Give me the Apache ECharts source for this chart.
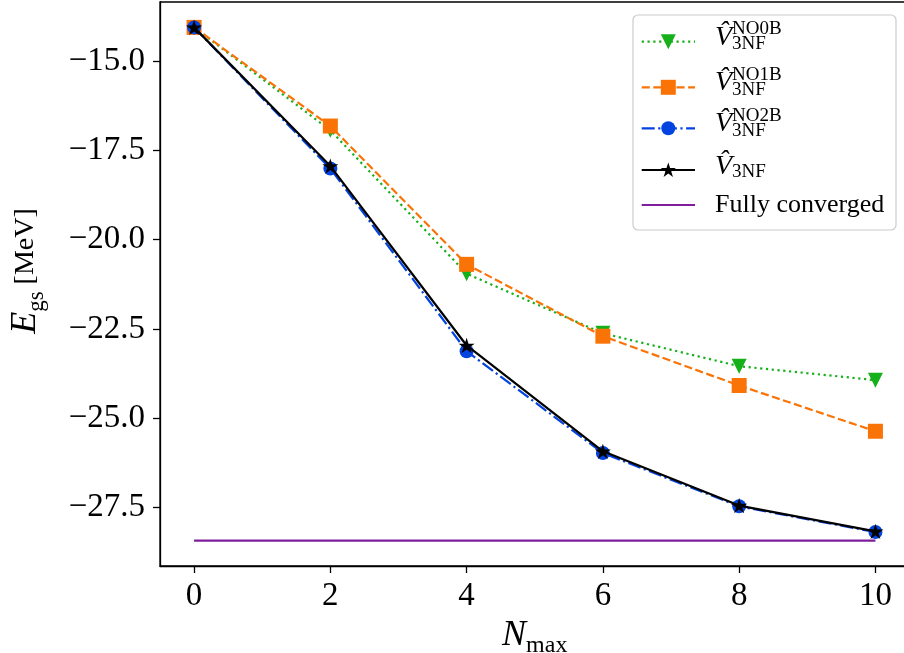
<!DOCTYPE html>
<html>
<head>
<meta charset="utf-8">
<script src="https://cdn.jsdelivr.net/npm/echarts@6/dist/echarts.min.js"></script>
<style>
html,body{margin:0;padding:0;background:#fff;}
#chart{width:904px;height:653px;}
</style>
</head>
<body>
<div id="chart"></div>
<script>
// ---- data ----
const nmax = [0, 2, 4, 6, 8, 10];
const no0b = [-14.06, -16.94, -20.95, -22.62, -23.54, -23.93];
const no1b = [-14.06, -16.82, -20.69, -22.70, -24.08, -25.36];
const no2b = [-14.06, -18.01, -23.12, -25.97, -27.46, -28.18];
const full3nf = [-14.06, -17.94, -22.96, -25.92, -27.44, -28.16];
const convergedX = [0, 10];
const convergedY = [-28.42, -28.42];
const xTicks = [0, 2, 4, 6, 8, 10];
const yTicks = [-27.5, -25.0, -22.5, -20.0, -17.5, -15.0];
const legendSup = ['NO0B', 'NO1B', 'NO2B', ''];

// ---- styles ----
const GREEN = '#15b01a', ORANGE = '#f97306', BLUE = '#0343df', BLACK = '#000000', PURPLE = '#7e1e9c';
const FONT = '"Liberation Serif", "Times New Roman", serif';
const STAR = 'path://M0,-1 L0.2245,-0.309 L0.951,-0.309 L0.363,0.118 L0.588,0.809 L0,0.382 L-0.588,0.809 L-0.363,0.118 L-0.951,-0.309 L-0.2245,-0.309 Z';
const LW = 2.2;
const DOT = [2.2, 3.6], DASH = [8.1, 3.5], DASHDOT = [13, 3.5, 2.2, 3.5];

const zip = (xs, ys) => xs.map((x, i) => [x, ys[i]]);
const fmtY = v => (v < 0 ? '\u2212' : '') + Math.abs(v).toFixed(1);

// ---- legend (graphic) ----
const legendEntries = [
  {ly: 41.7, color: GREEN, dash: DOT, marker: 'tri'},
  {ly: 87.3, color: ORANGE, dash: DASH, marker: 'sq'},
  {ly: 128.3, color: BLUE, dash: DASHDOT, marker: 'circ'},
  {ly: 170, color: BLACK, dash: null, marker: 'star'},
  {ly: 205, color: PURPLE, dash: null, marker: null}
];
const LX1 = 641.7, LX2 = 695, LMX = 668.3, TX = 715, SX = 732;
const graphics = [{
  type: 'rect', shape: {x: 633, y: 15, width: 263, height: 215, r: 5},
  style: {fill: 'rgba(255,255,255,0.8)', stroke: '#cccccc', lineWidth: 1.2}, z: 100
}];
function starPts(cx, cy, R) {
  const pts = [];
  for (let k = 0; k < 10; k++) {
    const r = k % 2 === 0 ? R : R * 0.382;
    const a = -Math.PI / 2 + k * Math.PI / 5;
    pts.push([cx + r * Math.cos(a), cy + r * Math.sin(a)]);
  }
  return pts;
}
legendEntries.forEach((e, i) => {
  graphics.push({type: 'line', shape: {x1: LX1, y1: e.ly, x2: LX2, y2: e.ly},
    style: {stroke: e.color, lineWidth: LW, lineDash: e.dash || null}, z: 101});
  const cy = e.ly;
  if (e.marker === 'tri') graphics.push({type: 'polygon', shape: {points: [[LMX - 7.5, cy - 7.5], [LMX + 7.5, cy - 7.5], [LMX, cy + 7.5]]}, style: {fill: e.color}, z: 102});
  if (e.marker === 'sq') graphics.push({type: 'rect', shape: {x: LMX - 7.5, y: cy - 7.5, width: 15, height: 15}, style: {fill: e.color}, z: 102});
  if (e.marker === 'circ') graphics.push({type: 'circle', shape: {cx: LMX, cy: cy, r: 7}, style: {fill: e.color}, z: 102});
  if (e.marker === 'star') graphics.push({type: 'polygon', shape: {points: starPts(LMX, cy + 0.5, 8)}, style: {fill: e.color}, z: 102});
  if (i < 4) {
    const vBase = i === 3 ? e.ly + 5 : e.ly + 4;
    graphics.push({type: 'text', x: TX, y: vBase - 8.4, z: 103,
      style: {text: 'V\u0302', fontSize: 28, fontFamily: FONT, fontStyle: 'italic', fill: '#000', verticalAlign: 'middle', align: 'left'}});
    if (legendSup[i]) graphics.push({type: 'text', x: SX, y: e.ly - 7 - 5.7, z: 103,
      style: {text: legendSup[i], fontSize: 19, fontFamily: FONT, fill: '#000', verticalAlign: 'middle', align: 'left'}});
    const subBase = i === 3 ? e.ly + 8 : e.ly + 8.5;
    graphics.push({type: 'text', x: SX, y: subBase - 5.7, z: 103,
      style: {text: '3NF', fontSize: 19, fontFamily: FONT, fill: '#000', verticalAlign: 'middle', align: 'left'}});
  } else {
    graphics.push({type: 'text', x: TX, y: e.ly + 0.5, z: 103,
      style: {text: 'Fully converged', fontSize: 26, fontFamily: FONT, fill: '#000', verticalAlign: 'middle', align: 'left'}});
  }
});

const chart = echarts.init(document.getElementById('chart'), null, {renderer: 'canvas'});
const axisCommon = {
  axisLine: {show: true, onZero: false, lineStyle: {color: '#000', width: 1.3}},
  axisTick: {show: true, length: 7, lineStyle: {color: '#000', width: 1.3}},
  splitLine: {show: false}
};
chart.setOption({
  animation: false,
  backgroundColor: '#fff',
  grid: {left: 160, right: -5.5, top: 2, bottom: 87, show: true, borderColor: '#000', borderWidth: 1.3,
    backgroundColor: 'transparent', containLabel: false, outerBoundsMode: 'none'},
  xAxis: Object.assign({}, axisCommon, {
    type: 'value', min: -0.5, max: 10.5,
    axisTick: Object.assign({}, axisCommon.axisTick, {customValues: xTicks}),
    axisLabel: {customValues: xTicks, fontSize: 33, fontFamily: FONT, color: '#000', margin: 14, formatter: v => String(v)},
    name: '{i|N}{s|max}', nameLocation: 'middle', nameGap: 40,
    nameTextStyle: {rich: {
      i: {fontSize: 36, fontStyle: 'italic', fontFamily: FONT, color: '#000', lineHeight: 44},
      s: {fontSize: 24, fontFamily: FONT, color: '#000', lineHeight: 23, verticalAlign: 'bottom'}
    }}
  }),
  yAxis: Object.assign({}, axisCommon, {
    type: 'value', min: -29.13, max: -13.35,
    axisTick: Object.assign({}, axisCommon.axisTick, {customValues: yTicks}),
    axisLabel: {customValues: yTicks, fontSize: 33, fontFamily: FONT, color: '#000', margin: 15, formatter: fmtY},
    name: '{i|E}{s|gs}{r| [MeV]}', nameLocation: 'middle', nameGap: 112,
    nameTextStyle: {padding: [0, 0, 0, 26], rich: {
      i: {fontSize: 36, fontStyle: 'italic', fontFamily: FONT, color: '#000', lineHeight: 44},
      s: {fontSize: 23, fontFamily: FONT, color: '#000', lineHeight: 23, verticalAlign: 'bottom'},
      r: {fontSize: 28, fontFamily: FONT, color: '#000', lineHeight: 44}
    }}
  }),
  graphic: graphics,
  series: [
    {name: 'NO0B', type: 'line', data: zip(nmax, no0b), z: 2,
      symbol: 'triangle', symbolRotate: 180, symbolSize: 15,
      lineStyle: {color: GREEN, width: LW, type: DOT}, itemStyle: {color: GREEN}},
    {name: 'NO1B', type: 'line', data: zip(nmax, no1b), z: 3,
      symbol: 'rect', symbolSize: 15,
      lineStyle: {color: ORANGE, width: LW, type: DASH}, itemStyle: {color: ORANGE}},
    {name: 'NO2B', type: 'line', data: zip(nmax, no2b), z: 4,
      symbol: 'circle', symbolSize: 14,
      lineStyle: {color: BLUE, width: LW, type: DASHDOT}, itemStyle: {color: BLUE}},
    {name: '3NF', type: 'line', data: zip(nmax, full3nf), z: 5,
      symbol: STAR, symbolSize: 16, symbolKeepAspect: true,
      lineStyle: {color: BLACK, width: LW, type: 'solid'}, itemStyle: {color: BLACK}},
    {name: 'Fully converged', type: 'line', data: zip(convergedX, convergedY), z: 6,
      showSymbol: false, symbol: 'none',
      lineStyle: {color: PURPLE, width: LW, type: 'solid'}}
  ]
});
</script>
</body>
</html>
